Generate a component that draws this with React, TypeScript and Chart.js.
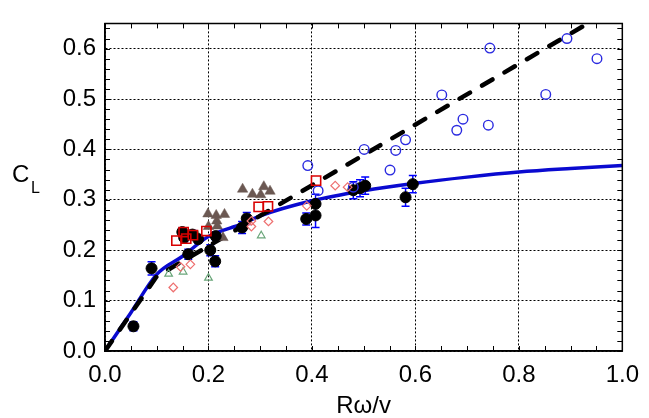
import React, { useEffect, useRef } from 'react';
import { Chart, registerables } from 'chart.js';

Chart.register(...registerables);

// ---- tick labels ----
const xTickLabels = ['0.0', '0.2', '0.4', '0.6', '0.8', '1.0'];
const yTickLabels = ['0.0', '0.1', '0.2', '0.3', '0.4', '0.5', '0.6'];
const xTitle = 'Rω/v';
const yTitleMain = 'C';
const yTitleSub = 'L';

// ---- model curves ----
const curveX = [0, 0.05, 0.1, 0.15, 0.2, 0.265, 0.3, 0.4, 0.5, 0.6, 0.7, 0.8, 0.9, 1.0];
const curveY = [0, 0.076, 0.152, 0.188, 0.227, 0.252, 0.268, 0.298, 0.318, 0.333, 0.345, 0.355, 0.362, 0.368];

const dashX = [0, 0.1, 1.0];
const dashY = [0, 0.148, 0.69];

// ---- black filled circles with error bars ----
const blackX = [0.055, 0.090, 0.1495, 0.153, 0.169, 0.161, 0.180, 0.2035, 0.213, 0.214, 0.265, 0.274, 0.389, 0.407, 0.407, 0.480, 0.493, 0.503, 0.581, 0.595];
const blackY = [0.049, 0.164, 0.236, 0.225, 0.231, 0.192, 0.222, 0.200, 0.178, 0.228, 0.245, 0.263, 0.262, 0.292, 0.269, 0.319, 0.323, 0.328, 0.305, 0.331];
const blackErr = [0.009, 0.013, 0.008, 0.008, 0.008, 0.010, 0.008, 0.011, 0.011, 0.008, 0.012, 0.012, 0.012, 0.019, 0.024, 0.017, 0.017, 0.017, 0.018, 0.017];

// ---- blue open circles ----
const blueX = [0.392, 0.412, 0.480, 0.501, 0.551, 0.562, 0.581, 0.651, 0.680, 0.692, 0.741, 0.744, 0.852, 0.893, 0.951];
const blueY = [0.368, 0.318, 0.325, 0.400, 0.359, 0.398, 0.419, 0.508, 0.438, 0.460, 0.448, 0.601, 0.509, 0.620, 0.580];

// ---- red open squares ----
const squareX = [0.138, 0.152, 0.157, 0.170, 0.196, 0.297, 0.315, 0.408];
const squareY = [0.219, 0.236, 0.223, 0.230, 0.238, 0.286, 0.287, 0.338];

// ---- pink open diamonds ----
const diamondX = [0.132, 0.146, 0.165, 0.283, 0.283, 0.316, 0.390, 0.445, 0.469];
const diamondY = [0.126, 0.167, 0.172, 0.258, 0.247, 0.257, 0.288, 0.328, 0.325];

// ---- green open triangles ----
const greenX = [0.123, 0.151, 0.180, 0.200, 0.302];
const greenY = [0.153, 0.157, 0.228, 0.145, 0.229];

// ---- brown filled triangles ----
const brownX = [0.199, 0.215, 0.231, 0.216, 0.200, 0.217, 0.228, 0.266, 0.285, 0.307, 0.301, 0.319];
const brownY = [0.272, 0.269, 0.271, 0.258, 0.247, 0.248, 0.225, 0.321, 0.311, 0.326, 0.310, 0.317];

const FONT = '"Liberation Sans", Arial, Helvetica, sans-serif';

const zip = (xs: number[], ys: number[]) => xs.map((x, i) => ({ x, y: ys[i] }));

const framePlugin = {
  id: 'frameAndExtras',
  beforeDatasetsDraw(chart: any) {
    const { ctx, scales } = chart;
    const xs = scales.x;
    const ys = scales.y;
    ctx.save();
    ctx.strokeStyle = '#0000ff';
    ctx.lineWidth = 1.5;
    ctx.beginPath();
    blackX.forEach((xv, i) => {
      const px = xs.getPixelForValue(xv);
      const pTop = ys.getPixelForValue(blackY[i] + blackErr[i]);
      const pBot = ys.getPixelForValue(blackY[i] - blackErr[i]);
      ctx.moveTo(px, pTop);
      ctx.lineTo(px, pBot);
      ctx.moveTo(px - 4, pTop);
      ctx.lineTo(px + 4, pTop);
      ctx.moveTo(px - 4, pBot);
      ctx.lineTo(px + 4, pBot);
    });
    ctx.stroke();
    ctx.restore();
  },
  afterDraw(chart: any) {
    const { ctx, chartArea, scales } = chart;
    const { left, right, top, bottom } = chartArea;
    const xs = scales.x;
    const ys = scales.y;
    ctx.save();
    ctx.strokeStyle = '#000';
    ctx.lineWidth = 1.5;
    ctx.beginPath();
    ctx.rect(left, top, right - left, bottom - top);
    ctx.stroke();
    ctx.lineWidth = 1;
    ctx.beginPath();
    for (let k = 0; k <= 20; k++) {
      const px = Math.round(xs.getPixelForValue(k * 0.05)) + 0.5;
      ctx.moveTo(px, bottom);
      ctx.lineTo(px, bottom - 5);
      ctx.moveTo(px, top);
      ctx.lineTo(px, top + 5);
    }
    for (let k = 0; k <= 32; k++) {
      const py = Math.round(ys.getPixelForValue(k * 0.02)) + 0.5;
      ctx.moveTo(left, py);
      ctx.lineTo(left + 5, py);
      ctx.moveTo(right, py);
      ctx.lineTo(right - 5, py);
    }
    ctx.stroke();

    // axis titles
    ctx.fillStyle = '#000';
    ctx.font = `24px ${FONT}`;
    ctx.textAlign = 'center';
    ctx.textBaseline = 'alphabetic';
    ctx.fillText(xTitle, (left + right) / 2, 413);
    ctx.textAlign = 'left';
    ctx.fillText(yTitleMain, 12, 182);
    ctx.font = `16px ${FONT}`;
    ctx.fillText(yTitleSub, 31, 193);
    ctx.restore();
  },
};

export default function App() {
  const ref = useRef<HTMLCanvasElement | null>(null);

  useEffect(() => {
    document.body.style.margin = '0';
    const canvas = ref.current;
    if (!canvas) return;
    const chart = new Chart(canvas, {
      type: 'scatter',
      data: {
        datasets: [
          {
            label: 'squares',
            data: zip(squareX, squareY),
            pointStyle: 'rect',
            pointRadius: 6.5,
            borderColor: '#d80000',
            backgroundColor: 'rgba(0,0,0,0)',
            borderWidth: 1.6,
            order: 0,
          },
          {
            label: 'diamonds',
            data: zip(diamondX, diamondY),
            pointStyle: 'rectRot',
            pointRadius: 4.3,
            borderColor: '#ee7070',
            backgroundColor: 'rgba(0,0,0,0)',
            borderWidth: 1.2,
            order: 1,
          },
          {
            label: 'blue circles',
            data: zip(blueX, blueY),
            pointStyle: 'circle',
            pointRadius: 4.8,
            borderColor: '#2b2be0',
            backgroundColor: 'rgba(0,0,0,0)',
            borderWidth: 1.4,
            order: 2,
          },
          {
            label: 'black circles',
            data: zip(blackX, blackY),
            pointStyle: 'circle',
            pointRadius: 5.5,
            borderColor: '#000',
            backgroundColor: '#000',
            borderWidth: 1,
            order: 3,
          },
          {
            label: 'green triangles',
            data: zip(greenX, greenY),
            pointStyle: 'triangle',
            pointRadius: 4.4,
            borderColor: '#6aa67a',
            backgroundColor: 'rgba(0,0,0,0)',
            borderWidth: 1.2,
            order: 4,
          },
          {
            label: 'brown triangles',
            data: zip(brownX, brownY),
            pointStyle: 'triangle',
            pointRadius: 6,
            borderColor: '#6b5852',
            backgroundColor: '#6b5852',
            borderWidth: 0.5,
            order: 5,
          },
          {
            type: 'line',
            label: 'dashed',
            data: zip(dashX, dashY),
            showLine: true,
            pointRadius: 0,
            borderColor: '#000',
            borderWidth: 4.5,
            borderDash: [12, 14],
            borderCapStyle: 'round',
            tension: 0,
            fill: false,
            order: 6,
          },
          {
            type: 'line',
            label: 'model',
            data: zip(curveX, curveY),
            showLine: true,
            pointRadius: 0,
            borderColor: '#0a0ad0',
            borderWidth: 3.5,
            cubicInterpolationMode: 'monotone',
            fill: false,
            order: 7,
          },
        ] as any,
      },
      options: {
        animation: false,
        responsive: false,
        events: [],
        layout: { padding: { top: 7, right: 20, left: 0, bottom: 0 } },
        plugins: {
          legend: { display: false },
          tooltip: { enabled: false },
        },
        scales: {
          x: {
            type: 'linear',
            min: 0,
            max: 1,
            afterFit: (s: any) => { s.height = 67; },
            ticks: {
              stepSize: 0.2,
              autoSkip: false,
              includeBounds: false,
              padding: 10,
              color: '#000',
              font: { family: FONT, size: 24 },
              callback: (v: any, i: number) => xTickLabels[i] ?? Number(v).toFixed(1),
            },
            grid: { color: '#000', lineWidth: 1, drawTicks: false },
            border: { display: true, color: '#000', width: 1.5, dash: [2, 2] },
          },
          y: {
            type: 'linear',
            min: 0,
            max: 0.65,
            afterFit: (s: any) => { s.width = 105; },
            ticks: {
              stepSize: 0.1,
              autoSkip: false,
              includeBounds: false,
              padding: 9,
              color: '#000',
              font: { family: FONT, size: 24 },
              callback: (v: any, i: number) => yTickLabels[i] ?? Number(v).toFixed(1),
            },
            grid: { color: '#000', lineWidth: 1, drawTicks: false },
            border: { display: true, color: '#000', width: 1.5, dash: [2, 2] },
          },
        },
      } as any,
      plugins: [framePlugin],
    });
    return () => chart.destroy();
  }, []);

  return (
    <canvas
      ref={ref}
      width={649}
      height={418}
      style={{ display: 'block', width: 649, height: 418 }}
    />
  );
}
